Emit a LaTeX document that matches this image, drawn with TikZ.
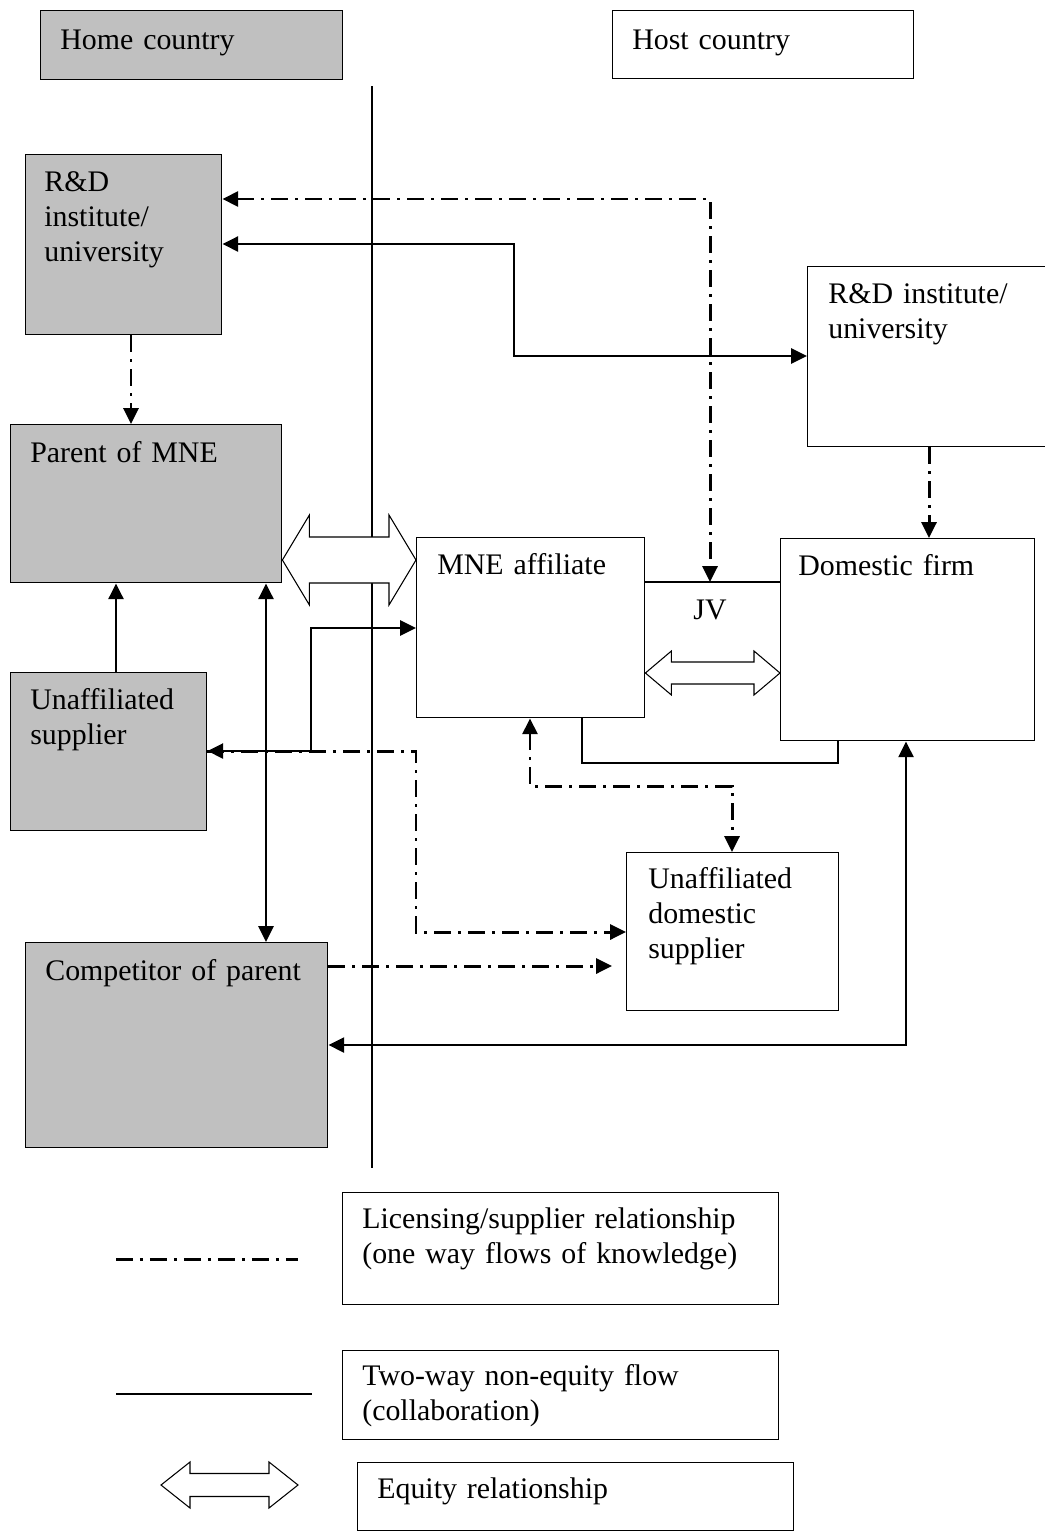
\documentclass[tikz,border=0pt]{standalone}
\usepackage{fontspec}
\setmainfont{Liberation Serif}
\usetikzlibrary{calc,arrows.meta}

\definecolor{boxgray}{HTML}{C0C0C0}

\tikzset{
    sz/.style 2 args={minimum width=#1*0.02cm, minimum height=#2*0.02cm},
    wbox/.style={draw, line width=0.8pt, anchor=north west, inner sep=0pt, fill=white},
    gbox/.style={wbox, fill=boxgray},
    lbl/.style={anchor=base west, inner sep=0pt, text width=9cm, align=left,
        font=\fontsize{17pt}{20pt}\selectfont},
    flow/.style={line width=1.6pt},
    know/.style={line width=1.7pt, dash pattern=on 0.34cm off 0.14cm on 0.06cm off 0.14cm},
    border/.style={line width=0.7pt},
    equity/.style={draw, fill=white, line width=0.6pt, line join=miter}
}

% open double arrow: from, to, head half height, shaft half height, head length
\newcommand{\eqarrow}[5]{%
    \draw[equity] (#1) -- ($(#1)+(#5,-#3)$) -- ($(#1)+(#5,-#4)$) -- ($(#2)+(-#5,-#4)$)
        -- ($(#2)+(-#5,-#3)$) -- (#2) -- ($(#2)+(-#5,#3)$) -- ($(#2)+(-#5,#4)$)
        -- ($(#1)+(#5,#4)$) -- ($(#1)+(#5,#3)$) -- cycle;}

\begin{document}
\begin{tikzpicture}[x=0.02cm, y=-0.02cm, >={Triangle[length=9pt,width=8.5pt]}]
    \useasboundingbox (0,0) rectangle (1045,1532);

    % countries and border
    \node[gbox, sz={302}{69}] (home) at (40,10) {};
    \node[wbox, sz={301}{68}] (host) at (612,10) {};
    \node[lbl] (homeT) at (60,49) {Home country};
    \node[lbl] (hostT) at (632,49) {Host country};
    \draw[border] (372,86) coordinate (bordtop) -- (372,1168) coordinate (bordbot);

    % firms and institutes
    \node[gbox, sz={196}{180}] (rdhome) at (25,154) {};
    \node[wbox, sz={250}{180}] (rdhost) at (807,266) {};
    \node[gbox, sz={271}{158}] (parent) at (10,424) {};
    \node[gbox, sz={196}{158}] (unsup) at (10,672) {};
    \node[wbox, sz={228}{180}] (mne) at (416,537) {};
    \node[wbox, sz={254}{202}] (dom) at (780,538) {};
    \node[wbox, sz={212}{158}] (udom) at (626,852) {};
    \node[gbox, sz={302}{205}] (comp) at (25,942) {};

    \node[lbl] (rdhomeT) at (44,191) {R\&D\\institute/\\university};
    \node[lbl] (rdhostT) at (828,303) {R\&D institute/\\university};
    \node[lbl] (parentT) at (30,462) {Parent of MNE};
    \node[lbl] (unsupT) at (30,709) {Unaffiliated\\supplier};
    \node[lbl] (mneT) at (437,574) {MNE affiliate};
    \node[lbl] (domT) at (798,575) {Domestic firm};
    \node[lbl] (udomT) at (648,888) {Unaffiliated\\domestic\\supplier};
    \node[lbl] (compT) at (45,980) {Competitor of parent};

    % joint venture
    \coordinate (jv) at (710,582);
    \draw[border] (mne.east |- jv) -- (dom.west |- jv);
    \node[anchor=base, inner sep=0pt, font=\fontsize{17pt}{20pt}\selectfont] (jvT) at (710,619) {JV};
    \draw[border] (582,0 |- mne.south) -- (582,763) -| (838,0 |- dom.south);

    % licensing / supplier flows
    \draw[know, <->] (rdhome.east |- 0,199) -| (jv);
    \draw[know, ->] (131,0 |- rdhome.south) -- (131,0 |- parent.north);
    \draw[know, ->] (929,0 |- rdhost.south) -- (929,0 |- dom.north);
    \draw[know, ->] (unsup.east |- 0,751) -| (416,880) |- (udom.west |- 0,932);
    \draw[know, <->] (530,0 |- mne.south) -- (530,786) -| (732,0 |- udom.north);
    \coordinate (cpend) at (612,966);
    \draw[know, ->] (comp.east |- cpend) -- (cpend);

    % collaboration
    \draw[flow, <->] (rdhome.east |- 0,244) -| (514,300) |- (rdhost.west |- 0,356);
    \draw[flow, ->] (116,0 |- unsup.north) -- (116,0 |- parent.south);
    \draw[flow, <->] (266,0 |- parent.south) -- (266,0 |- comp.north);
    \draw[flow, <->] (unsup.east |- 0,751) -| (311,700) |- (mne.west |- 0,628);
    \draw[flow, <->] (906,0 |- dom.south) |- (comp.east |- 0,1045);

    % equity
    \coordinate (eqA) at (parent.east |- 0,560);
    \coordinate (eqB) at (mne.west |- 0,560);
    \eqarrow{eqA}{eqB}{45}{23}{27}
    \coordinate (jvA) at (mne.east |- 0,673);
    \coordinate (jvB) at (dom.west |- 0,673);
    \eqarrow{jvA}{jvB}{22}{11}{26}

    % legend
    \node[wbox, sz={436}{112}] (leg1) at (342,1192) {};
    \node[wbox, sz={436}{89}] (leg2) at (342,1350) {};
    \node[wbox, sz={436}{68}] (leg3) at (357,1462) {};
    \node[lbl] (leg1T) at (362,1228) {Licensing/supplier relationship\\(one way flows of knowledge)};
    \node[lbl] (leg2T) at (362,1385) {Two-way non-equity flow\\(collaboration)};
    \node[lbl] (leg3T) at (377,1498) {Equity relationship};
    \draw[know] (116,1259) coordinate (k1) -- (298,1259) coordinate (k2);
    \draw[flow] (116,1394) coordinate (f1) -- (312,1394) coordinate (f2);
    \coordinate (legA) at (161,1485);
    \coordinate (legB) at (298,1485);
    \eqarrow{legA}{legB}{23}{11.5}{29}
\end{tikzpicture}
\end{document}
